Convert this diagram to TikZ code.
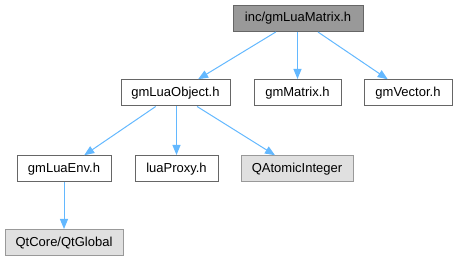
\documentclass[tikz,border=0pt]{standalone}
\usepackage{fontspec}
\setmainfont{Liberation Sans}
\usetikzlibrary{arrows.meta}
\definecolor{edgeblue}{HTML}{63B8FF}
\definecolor{topfill}{HTML}{999999}
\definecolor{topdraw}{HTML}{666666}
\definecolor{extfill}{HTML}{E0E0E0}
\definecolor{extdraw}{HTML}{999999}
\tikzset{
  box/.style={draw=topdraw, line width=1pt, fill=white, minimum height=26pt, inner sep=0pt,
    font=\fontsize{13pt}{15pt}\selectfont, text=black},
  mainbox/.style={box, fill=topfill},
  extbox/.style={box, draw=extdraw, fill=extfill},
  dep/.style={draw=edgeblue, line width=1pt, -{Triangle[length=10pt,width=8pt]}, shorten >=0.5pt}
}
\begin{document}
\begin{tikzpicture}[x=1pt,y=-1pt]
\useasboundingbox (0,0) rectangle (458,261);
\node[mainbox, minimum width=130pt] (top) at (298,18.5) {inc/gmLuaMatrix.h};
\node[box, minimum width=109pt] (lo) at (175.5,93) {gmLuaObject.h};
\node[box, minimum width=87pt] (mat) at (297.5,93) {gmMatrix.h};
\node[box, minimum width=88pt] (vec) at (408,93) {gmVector.h};
\node[box, minimum width=94pt] (env) at (64,169) {gmLuaEnv.h};
\node[box, minimum width=83pt] (proxy) at (176.5,169) {luaProxy.h};
\node[extbox, minimum width=112pt] (qai) at (297,169) {QAtomicInteger};
\node[extbox, minimum width=118pt] (qtg) at (64,243) {QtCore/QtGlobal};
\draw[dep] (top) -- (lo);
\draw[dep] (top.south -| mat) -- (mat);
\draw[dep] (top) -- (vec);
\draw[dep] (lo) -- (env);
\draw[dep] (lo.south -| proxy) -- (proxy);
\draw[dep] (lo) -- (qai);
\draw[dep] (env) -- (qtg);
\end{tikzpicture}
\end{document}
